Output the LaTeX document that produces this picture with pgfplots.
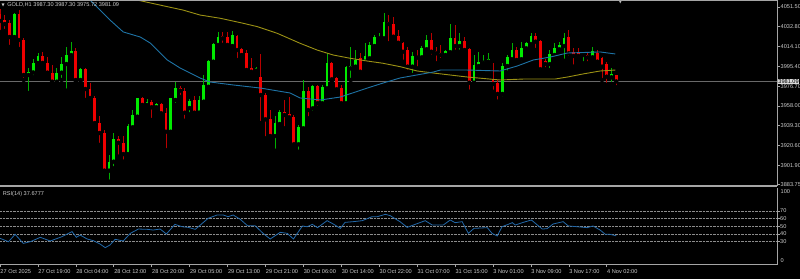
\documentclass[border=0pt]{standalone}
\usepackage{fontspec}
\setmainfont{Liberation Sans}
\newfontfamily\symfont{DejaVu Sans}
\usepackage{pgfplots}
\usepackage{pgfplotstable}
\pgfplotsset{compat=1.18}
\definecolor{bull}{RGB}{0,235,0}
\definecolor{bear}{RGB}{240,0,0}
\definecolor{bullwick}{RGB}{0,175,0}
\definecolor{bearwick}{RGB}{185,0,0}
\definecolor{maY}{RGB}{155,145,20}
\definecolor{maB}{RGB}{30,115,165}
\definecolor{rsiC}{RGB}{35,105,170}
\definecolor{txt}{RGB}{205,205,205}
\definecolor{frm}{RGB}{165,165,165}
\newcommand\tf{\fontsize{5.6}{6.5}\selectfont}

\pgfplotstableread{
i o h l c
3 4023.1 4045.8 4021.2 4044.9
6 3987.2 3993.8 3970.2 3989.6
7 3989.6 4002.3 3985.3 3998.8
8 3998.6 4008.0 3995.7 4005.2
12 3980.9 3993.8 3979.7 3989.4
13 3989.4 4004.2 3982.5 3997.6
14 3997.6 4013.7 3972.4 4006.1
15 4006.1 4018.7 4004.5 4009.9
17 3982.5 3993.8 3981.8 3992.6
23 3896.8 3911.6 3886.4 3905.3
24 3905.3 3932.1 3899.0 3926.4
27 3912.5 3940.9 3911.6 3939.0
28 3937.8 3954.1 3934.6 3949.4
29 3947.8 3965.5 3946.6 3965.2
31 3958.9 3964.5 3956.0 3962.0
33 3956.7 3960.7 3956.0 3959.8
36 3933.6 3965.5 3933.3 3965.2
37 3963.6 3980.9 3958.9 3974.6
40 3956.0 3964.5 3950.0 3962.9
42 3951.6 3967.4 3950.3 3963.6
43 3962.0 3987.2 3960.7 3977.8
44 3976.1 4001.4 3974.9 4000.4
45 3999.8 4017.7 3999.5 4016.2
46 4015.6 4028.1 4014.6 4023.4
49 4014.6 4029.1 4013.7 4025.0
54 3991.3 3995.1 3989.1 3993.5
58 3929.5 3948.5 3915.7 3941.6
59 3940.9 3954.1 3939.0 3952.5
63 3921.7 3939.9 3914.7 3938.3
64 3936.8 3982.5 3933.6 3972.4
66 3955.7 3977.8 3951.3 3976.8
68 3960.5 3977.8 3959.8 3976.1
69 3974.6 4007.7 3973.0 3998.3
73 3960.5 3995.7 3959.8 3994.5
74 3993.5 4013.9 3982.5 3995.7
75 3995.1 4010.8 3994.8 4001.4
77 3999.8 4017.2 3998.6 4005.2
78 4003.0 4018.7 4001.4 4015.6
79 4014.6 4025.0 4014.0 4022.8
80 4021.9 4026.6 4020.3 4023.4
81 4021.9 4045.5 4020.3 4037.6
87 3995.1 4009.2 3987.2 4005.2
89 4003.9 4014.6 4003.3 4012.4
90 4011.5 4025.0 4010.8 4020.3
94 4006.1 4010.8 4005.2 4009.9
95 4008.7 4035.4 4008.0 4021.9
97 4014.6 4026.6 4009.2 4019.6
100 3979.9 4006.1 3979.7 3996.7
101 3995.7 4009.2 3994.8 3999.8
102 3998.8 4006.1 3996.7 4000.7
103 3999.8 4007.7 3998.6 4002.1
106 3969.3 3998.3 3965.2 3995.7
107 3995.7 4006.1 3989.4 4003.9
108 4002.1 4017.2 4001.4 4010.8
110 4002.1 4018.7 3998.3 4013.0
111 4012.4 4018.7 4009.2 4017.2
112 4016.5 4026.6 4015.6 4024.1
116 3997.6 4010.8 3991.9 4006.8
117 4006.1 4017.2 4005.2 4013.0
118 4011.5 4018.7 4010.8 4015.6
119 4014.6 4026.6 4000.7 4021.9
123 4006.1 4009.2 3998.3 4007.7
125 4003.9 4013.9 4003.3 4010.2
129 3985.0 3993.5 3978.7 3988.2
}\bulltab

\pgfplotstableread{
i o h l c
0 4044.9 4049.6 4027.9 4038.3
1 4039.2 4043.9 4028.8 4035.4
2 4036.4 4039.2 4013.7 4023.1
4 4044.9 4048.6 4011.8 4020.3
5 4020.3 4022.2 3982.5 3987.2
9 4005.2 4008.9 3994.8 3998.6
10 3998.6 4004.2 3987.2 3989.4
11 3989.4 3996.7 3979.7 3980.9
16 4009.9 4012.7 3980.9 3982.5
18 3992.6 3993.8 3963.6 3974.0
19 3974.0 3979.7 3961.7 3965.5
20 3965.5 3967.4 3939.9 3941.8
21 3941.8 3948.5 3921.1 3932.4
22 3932.4 3935.2 3895.5 3896.8
25 3926.4 3929.5 3910.0 3923.2
26 3923.2 3929.5 3905.3 3912.5
30 3965.2 3966.4 3957.0 3958.9
32 3962.0 3963.6 3944.7 3956.7
34 3959.8 3960.7 3949.4 3951.0
35 3951.0 3956.0 3916.3 3933.6
38 3974.6 3976.8 3966.4 3972.4
39 3972.4 3974.9 3944.0 3951.6
41 3963.6 3967.4 3950.3 3951.6
47 4024.1 4028.1 4015.6 4021.9
48 4022.8 4028.1 4014.6 4015.6
50 4024.4 4025.0 4001.4 4010.8
51 4011.5 4012.7 4004.2 4006.1
52 4008.3 4010.8 3988.8 3991.9
53 3993.5 4003.3 3989.1 3990.3
55 3985.0 4007.1 3941.8 3968.3
56 3968.3 3970.2 3927.4 3945.3
57 3945.3 3954.1 3928.6 3929.5
60 3952.5 3963.6 3936.8 3949.4
61 3950.3 3966.7 3944.7 3947.2
62 3947.8 3949.4 3920.1 3921.7
65 3972.4 3976.1 3946.3 3954.1
67 3976.8 3977.8 3956.0 3960.5
70 3998.3 3999.8 3980.9 3983.1
71 3984.1 3985.6 3972.4 3973.7
72 3974.6 3977.8 3958.9 3960.5
76 4003.0 4007.7 3989.1 3990.3
82 4037.0 4043.9 4017.2 4035.4
83 4035.4 4042.3 4020.3 4023.4
84 4024.1 4029.7 4014.6 4017.7
85 4017.7 4018.7 3999.8 4009.2
86 4010.8 4013.9 3990.3 3995.1
88 4005.2 4010.8 3993.5 4003.6
91 4020.3 4026.6 4004.5 4009.2
92 4009.9 4013.9 3998.3 4007.7
93 4008.3 4015.6 4001.4 4006.1
96 4021.9 4034.5 4009.2 4014.6
98 4019.6 4023.4 4008.9 4010.8
99 4011.5 4012.7 3971.4 3979.9
104 3983.1 3998.8 3971.4 3978.7
105 3979.4 3982.5 3962.0 3969.3
109 4010.8 4013.4 3999.5 4001.4
113 4024.1 4026.6 4010.8 4018.7
114 4019.6 4020.3 3991.9 3992.6
115 4000.7 4002.1 3992.6 3997.6
120 4023.4 4029.7 4003.3 4007.7
121 4008.9 4012.7 3995.1 4005.2
122 4007.7 4012.4 4001.4 4005.2
124 4006.1 4008.3 3998.3 4003.9
126 4008.3 4010.8 3998.6 3999.8
127 4003.0 4004.5 3982.5 3995.1
128 3997.6 3999.5 3977.8 3985.6
130 3987.30 3987.30 3975.72 3981.09
}\beartab

\pgfplotstableread{
x y
21.1 4069.4
28.9 4058.1
35.3 4051.8
38.6 4048.6
42.2 4043.9
46.5 4040.8
51.3 4036.1
54.3 4032.9
58.5 4026.6
63.3 4017.2
66.9 4010.8
70.3 4006.1
73.9 4003.0
77.5 4000.4
80.8 3998.3
84.4 3995.1
88.0 3991.0
91.4 3989.1
98.6 3985.3
105.5 3982.5
110.4 3983.4
117.1 3983.4
119.7 3985.3
123.0 3988.2
126.6 3991.0
129.8 3991.9
}\yellowtab

\pgfplotstableread{
x y
14.8 4072.3
19.0 4058.1
21.1 4048.6
23.2 4039.2
26.0 4027.9
29.6 4023.1
31.7 4017.4
35.3 4001.4
38.0 3993.8
42.2 3984.4
44.3 3980.6
49.2 3977.8
54.9 3974.9
61.2 3970.2
63.3 3965.5
67.6 3963.6
71.8 3966.4
77.5 3974.9
80.8 3979.6
84.4 3984.4
91.4 3990.0
92.9 3991.9
98.6 3991.9
105.5 3991.0
109.1 3995.7
112.5 4001.4
116.1 4004.2
119.7 4008.0
126.6 4009.0
129.8 4007.1
}\bluetab

\pgfplotstableread{
x y
0 34.4
1.8 30.0
3.2 39.6
4.9 27.8
6.4 30.0
8.5 35.7
10.6 30.9
13.1 36.6
15.2 43.1
16.1 35.7
16.9 38.7
18.4 33.5
19.7 31.3
21.1 27.0
22.2 22.2
23.2 25.7
24.3 33.1
26.0 30.9
27.5 40.9
29.2 46.5
31.1 46.1
32.3 45.2
33.8 46.5
35.1 40.0
36.9 52.6
38.4 49.5
39.7 48.7
41.2 46.1
43.9 60.4
45.8 64.8
47.1 64.8
48.1 62.6
49.2 64.8
50.7 59.1
52.2 50.9
53.8 50.9
55.5 40.9
57.0 33.5
59.1 42.2
60.6 40.9
61.9 33.5
63.8 50.5
64.8 49.5
65.9 52.6
67.0 48.3
69.0 57.4
70.3 53.1
71.8 47.4
72.8 55.2
74.5 56.1
76.4 57.4
78.5 62.6
79.6 62.6
81.3 65.7
82.3 64.0
83.8 58.3
84.4 56.1
85.9 48.7
87.2 51.7
89.7 57.4
91.2 51.7
93.5 51.7
95.0 58.3
96.0 54.8
97.5 56.1
98.8 40.9
100.0 47.4
102.8 48.3
103.8 40.9
104.9 37.4
105.9 49.5
108.1 54.8
108.7 51.7
110.4 55.2
112.1 58.3
114.4 46.5
115.4 47.0
116.7 53.1
118.8 56.1
119.9 50.5
121.8 49.5
123.9 48.3
125.1 50.5
126.6 45.2
127.7 39.6
128.7 39.6
130 37.7
}\rsitab

\begin{document}
\begin{tikzpicture}
\path[use as bounding box] (0pt,0pt) rectangle (800pt,279pt);
\fill[black] (0pt,0pt) rectangle (800pt,279pt);

\begin{axis}[
  at={(0pt,93pt)}, anchor=south west, width=777pt, height=186pt, scale only axis,
  xmin=0, xmax=163.92, ymin=3882.3, ymax=4058.1,
  axis x line*=bottom, xtick=\empty, x axis line style={draw=none},
  axis y line*=right,
  y axis line style={frm, line width=0.8pt},
  ytick={4051.5,4032.8,4014.1,3995.4,3976.7,3958,3939.3,3920.6,3901.9,3883.75},
  yticklabels={4051.50,4032.80,4014.10,3995.40,3976.70,3958.00,3939.30,3920.60,3901.90,3883.75},
  ytick pos=right, yticklabel pos=right,
  yticklabel style={font=\tf, text=txt, anchor=west, inner sep=0pt, xshift=0.5pt},
  tick style={frm, line width=0.6pt},
  tick align=outside, major tick length=3pt,
  clip mode=individual,
]
\addplot[color={rgb,255:red,105;green,105;blue,105}, line width=1.1pt] coordinates {(0,3981.09) (164,3981.09)};
% wicks
\addplot[only marks, mark=none, error bars/.cd, y dir=plus, y explicit, error mark=none,
  error bar style={line width=0.8pt, bullwick}]
  table[x=i, y=l, y error plus expr=\thisrow{h}-\thisrow{l}] {\bulltab};
\addplot[only marks, mark=none, error bars/.cd, y dir=plus, y explicit, error mark=none,
  error bar style={line width=0.8pt, bearwick}]
  table[x=i, y=l, y error plus expr=\thisrow{h}-\thisrow{l}] {\beartab};
% bodies
\addplot[only marks, mark=none, error bars/.cd, y dir=plus, y explicit, error mark=none,
  error bar style={line width=2.8pt, bull}]
  table[x=i, y=o, y error plus expr={max(\thisrow{c}-\thisrow{o},0.7)}] {\bulltab};
\addplot[only marks, mark=none, error bars/.cd, y dir=plus, y explicit, error mark=none,
  error bar style={line width=2.8pt, bear}]
  table[x=i, y=c, y error plus expr={max(\thisrow{o}-\thisrow{c},0.7)}] {\beartab};
% moving averages
\addplot[maY, line width=0.9pt] table[x=x, y=y] {\yellowtab};
\addplot[maB, line width=0.9pt] table[x=x, y=y] {\bluetab};

\node[anchor=west, fill={rgb,255:red,220;green,220;blue,220}, text=black, font=\tf, inner sep=0.6pt, xshift=0.6pt] at (axis cs:163.92,3981.09) {3981.09};
\end{axis}

\node[anchor=north west, font=\tf, text=txt, inner sep=0pt] at (1.5pt,276.5pt) {{\symfont\fontsize{4}{4}\selectfont ▼}\hspace{2.5pt}GOLD,H1 3987.30 3987.30 3975.72 3981.09};
\node[anchor=north, inner sep=0pt, font={\symfont\fontsize{4}{4}\selectfont}, text={rgb,255:red,190;green,190;blue,190}] at (620.5pt,278.6pt) {▼};

\draw[frm, line width=1pt] (0pt,278.5pt) -- (777pt,278.5pt);
\draw[frm, line width=2pt] (0pt,92.8pt) -- (777pt,92.8pt);

\begin{axis}[
  at={(0pt,14.3pt)}, anchor=south west, width=777pt, height=76.7pt, scale only axis,
  xmin=0, xmax=163.92, ymin=0, ymax=100,
  axis x line*=bottom, axis y line*=right,
  axis line style={frm, line width=0.8pt},
  ytick={30,40,50,60,70}, yticklabels={30,40,50,60,70},
  ytick pos=right, yticklabel pos=right,
  ymajorgrids, grid style={densely dotted, color={rgb,255:red,140;green,140;blue,140}, line width=0.6pt},
  yticklabel style={font=\tf, text=txt, anchor=west, inner sep=0pt, xshift=0.5pt},
  xtick={0,8,...,128},
  xticklabels={27 Oct 2025,27 Oct 19:00,28 Oct 04:00,28 Oct 12:00,28 Oct 20:00,29 Oct 05:00,29 Oct 13:00,29 Oct 21:00,30 Oct 06:00,30 Oct 14:00,30 Oct 22:00,31 Oct 07:00,31 Oct 15:00,3 Nov 01:00,3 Nov 09:00,3 Nov 17:00,4 Nov 02:00},
  xtick pos=bottom, xticklabel pos=bottom,
  xticklabel style={font=\tf, text=txt, anchor=north west, inner sep=0pt, yshift=-2.2pt, xshift=0.3pt},
  tick style={frm, line width=0.6pt},
  tick align=outside, major tick length=2.5pt,
  clip mode=individual,
]
\addplot[rsiC, line width=0.8pt] table[x=x, y=y] {\rsitab};
\node[anchor=north west, font=\tf, text=txt, inner sep=0pt, xshift=2.7pt, yshift=-2.8pt] at (rel axis cs:0,1) {RSI(14) 37.6777};
\node[anchor=north west, font=\tf, text=txt, inner sep=0pt, xshift=3.5pt, yshift=-1pt] at (rel axis cs:1,1) {100};
\node[anchor=south west, font=\tf, text=txt, inner sep=0pt, xshift=3.5pt, yshift=2pt] at (rel axis cs:1,0) {0};
\end{axis}
\end{tikzpicture}
\end{document}
